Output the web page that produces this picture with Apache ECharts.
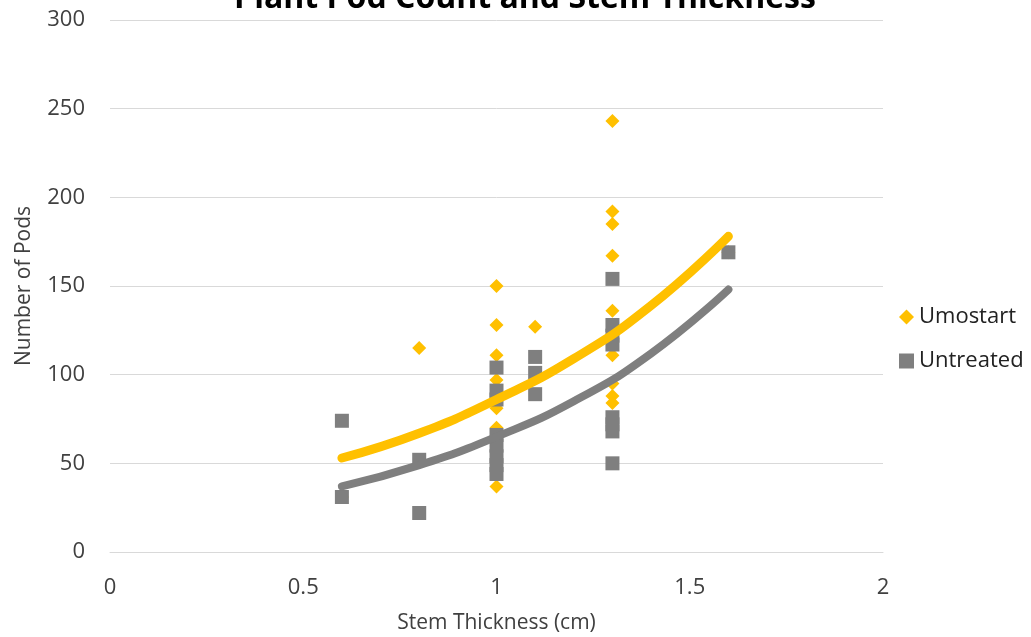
<!DOCTYPE html>
<html>
<head>
<meta charset="utf-8">
<script src="https://cdn.jsdelivr.net/npm/echarts@6/dist/echarts.min.js"></script>
<style>
html,body{margin:0;padding:0;background:#fff;}
#chart{width:1031px;height:637px;}
</style>
</head>
<body>
<div id="chart"></div>
<script>
// Data
const umostartX = [0.6, 0.8, 1, 1, 1, 1, 1, 1, 1, 1.1, 1.3, 1.3, 1.3, 1.3, 1.3, 1.3, 1.3, 1.3, 1.3, 1.6];
const umostartY = [31, 115, 150, 128, 111, 97, 81, 70, 37, 127, 243, 192, 185, 167, 136, 111, 95, 88, 84, 169];
const untreatedX = [0.6, 0.6, 0.8, 0.8, 1, 1, 1, 1, 1, 1, 1, 1, 1.1, 1.1, 1.1, 1.3, 1.3, 1.3, 1.3, 1.3, 1.3, 1.3, 1.3, 1.6];
const untreatedY = [74, 31, 52, 22, 104, 91, 86, 66, 60, 54, 49, 44, 110, 101, 89, 154, 128, 122, 117, 76, 72, 68, 50, 169];
// Exponential trendlines, values
const trendX = [0.6, 0.8, 1.0, 1.2, 1.4, 1.6];
const umostartTrend = [53, 67, 86, 109, 139, 178];
const untreatedTrend = [37, 49, 65, 85, 112, 148];
const xTicks = [0, 0.5, 1, 1.5, 2];
const yTicks = [0, 50, 100, 150, 200, 250, 300];

const pair = (xs, ys) => xs.map((x, i) => [x, ys[i]]);
const FONT = '"Open Sans", "Noto Sans", sans-serif';
const chart = echarts.init(document.getElementById('chart'));
chart.setOption({
  animation: false,
  backgroundColor: '#fff',
  title: {
    text: 'Plant Pod Count and Stem Thickness',
    left: 520, textAlign: 'center', top: -22,
    textStyle: {fontFamily: FONT, fontSize: 32, fontWeight: 'bold', color: '#000'}
  },
  legend: {
    orient: 'vertical', left: 894, top: 301, itemGap: 22,
    itemWidth: 15, itemHeight: 15,
    textStyle: {fontFamily: FONT, fontSize: 22, color: '#222'},
    data: [{name: 'Umostart', icon: 'diamond'}, {name: 'Untreated', icon: 'rect'}]
  },
  grid: {left: 110, right: 148, top: 20, bottom: 85, containLabel: false, outerBoundsMode: 'none'},
  xAxis: {
    type: 'value', min: xTicks[0], max: xTicks[xTicks.length - 1], interval: 0.5,
    name: 'Stem Thickness (cm)', nameLocation: 'middle', nameGap: 61,
    nameTextStyle: {fontFamily: FONT, fontSize: 21, color: '#404040'},
    axisLine: {show: true, lineStyle: {color: '#d9d9d9'}},
    axisTick: {show: false},
    splitLine: {show: false},
    axisLabel: {fontFamily: FONT, fontSize: 22, color: '#404040', margin: 25}
  },
  yAxis: {
    type: 'value', min: yTicks[0], max: yTicks[yTicks.length - 1], interval: 50,
    name: 'Number of Pods', nameLocation: 'middle', nameGap: 75, nameRotate: 90,
    nameTextStyle: {fontFamily: FONT, fontSize: 21, color: '#404040'},
    axisLine: {show: false}, axisTick: {show: false},
    splitLine: {lineStyle: {color: '#d9d9d9', width: 1}},
    axisLabel: {fontFamily: FONT, fontSize: 22, color: '#404040', margin: 25}
  },
  series: [
    {
      name: 'Umostart', type: 'scatter', symbol: 'diamond', symbolSize: 14,
      itemStyle: {color: '#FFC000', opacity: 1}, z: 2,
      data: pair(umostartX, umostartY)
    },
    {
      name: 'Untreated', type: 'scatter', symbol: 'rect', symbolSize: 14,
      itemStyle: {color: '#7F7F7F', opacity: 1}, z: 3,
      data: pair(untreatedX, untreatedY)
    },
    {
      name: 'UmostartTrend', type: 'line', smooth: true, showSymbol: false, symbol: 'none',
      lineStyle: {color: '#FFC000', width: 9, cap: 'round'}, z: 4, silent: true,
      data: pair(trendX, umostartTrend)
    },
    {
      name: 'UntreatedTrend', type: 'line', smooth: true, showSymbol: false, symbol: 'none',
      lineStyle: {color: '#7F7F7F', width: 8, cap: 'round'}, z: 5, silent: true,
      data: pair(trendX, untreatedTrend)
    }
  ]
});
</script>
</body>
</html>
